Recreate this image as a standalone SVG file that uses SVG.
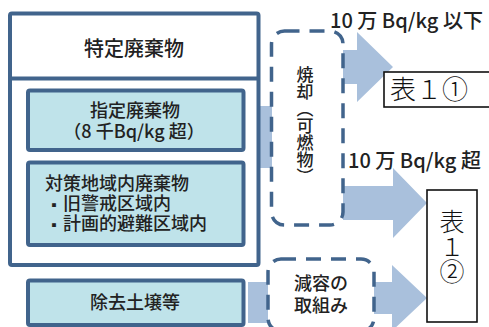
<svg xmlns="http://www.w3.org/2000/svg" width="489" height="327" viewBox="0 0 489 327">
<defs>
<style>
.t{font-family:"Noto Sans CJK JP","Noto Sans",sans-serif;fill:#222;font-weight:500;}
.s{font-family:"Noto Sans CJK JP","Noto Sans",sans-serif;fill:#111;font-weight:300;}
.box{fill:#ffffff;stroke:#41648c;stroke-width:4;}
.inner{fill:#bfe3ea;stroke:#41648c;stroke-width:4;}
.dash{fill:none;stroke:#41648c;stroke-width:3.5;stroke-dasharray:15 10;}
.arr{fill:#a9c0dc;stroke:none;}
.tbl{fill:#ffffff;stroke:#111;stroke-width:1.6;}
</style>
</defs>
<rect width="489" height="327" fill="#ffffff"/>
<g id="connectors">
<rect class="arr" x="258" y="106" width="14" height="62"/>
<rect class="arr" x="248" y="282" width="20" height="41"/>
<polygon class="arr" points="343,50 357,50 357,32 393,67 357,102 357,84 343,84"/>
<polygon class="arr" points="343,186 393,186 393,168 427,203 393,238 393,220 343,220"/>
<polygon class="arr" points="374,282 392,282 392,265 427,298 392,331 392,314 374,314"/>
</g>
<g id="tokutei">
<rect class="box" x="10" y="13.5" width="248.5" height="251.5" rx="2"/>
<line x1="10" y1="78.5" x2="258.5" y2="78.5" stroke="#41648c" stroke-width="4"/>
<text class="t" x="134" y="56" font-size="20" text-anchor="middle">特定廃棄物</text>
</g>
<g id="shitei">
<rect class="inner" x="28" y="90.5" width="215.5" height="59.5" rx="2"/>
<text class="t" x="135" y="117" font-size="18" text-anchor="middle">指定廃棄物</text>
<text class="t" x="134" y="137.5" font-size="18" text-anchor="middle">（8 千Bq/kg 超）</text>
</g>
<g id="taisaku">
<rect class="inner" x="28" y="162.5" width="215.5" height="82.5" rx="2"/>
<text class="t" x="45" y="190" font-size="18">対策地域内廃棄物</text>
<text class="t" y="210" font-size="18"><tspan x="54" text-anchor="middle" font-size="14">▪</tspan><tspan x="63">旧警戒区域内</tspan></text>
<text class="t" y="230" font-size="18"><tspan x="54" text-anchor="middle" font-size="14">▪</tspan><tspan x="63">計画的避難区域内</tspan></text>
</g>
<g id="jokyo">
<rect class="inner" x="28" y="280.5" width="215.5" height="44.5" rx="2"/>
<text class="t" x="135" y="309" font-size="18" text-anchor="middle">除去土壌等</text>
</g>
<g id="shokyaku">
<rect class="dash" x="271.5" y="31" width="71.5" height="194" rx="13"/>
<text class="t" x="305" y="66" font-size="17" style="writing-mode:vertical-rl">焼却（可燃物）</text>
</g>
<g id="genyou">
<rect class="dash" x="268" y="259" width="106" height="72" rx="13"/>
<text class="t" x="321" y="290" font-size="18" text-anchor="middle">減容の</text>
<text class="t" x="321" y="312" font-size="18" text-anchor="middle">取組み</text>
</g>
<g id="label1">
<text class="t" x="330" y="28" font-size="20">10 万 Bq/kg 以下</text>
</g>
<g id="label2">
<text class="t" x="348" y="168" font-size="20">10 万 Bq/kg 超</text>
</g>
<g id="table1">
<rect class="tbl" x="384" y="72" width="110" height="35"/>
<text class="s" x="390" y="99" font-size="26">表１①</text>
</g>
<g id="table2">
<rect class="tbl" x="427" y="190" width="50" height="132"/>
<text class="s" x="452" y="209" font-size="25" style="writing-mode:vertical-rl">表１②</text>
</g>
</svg>
